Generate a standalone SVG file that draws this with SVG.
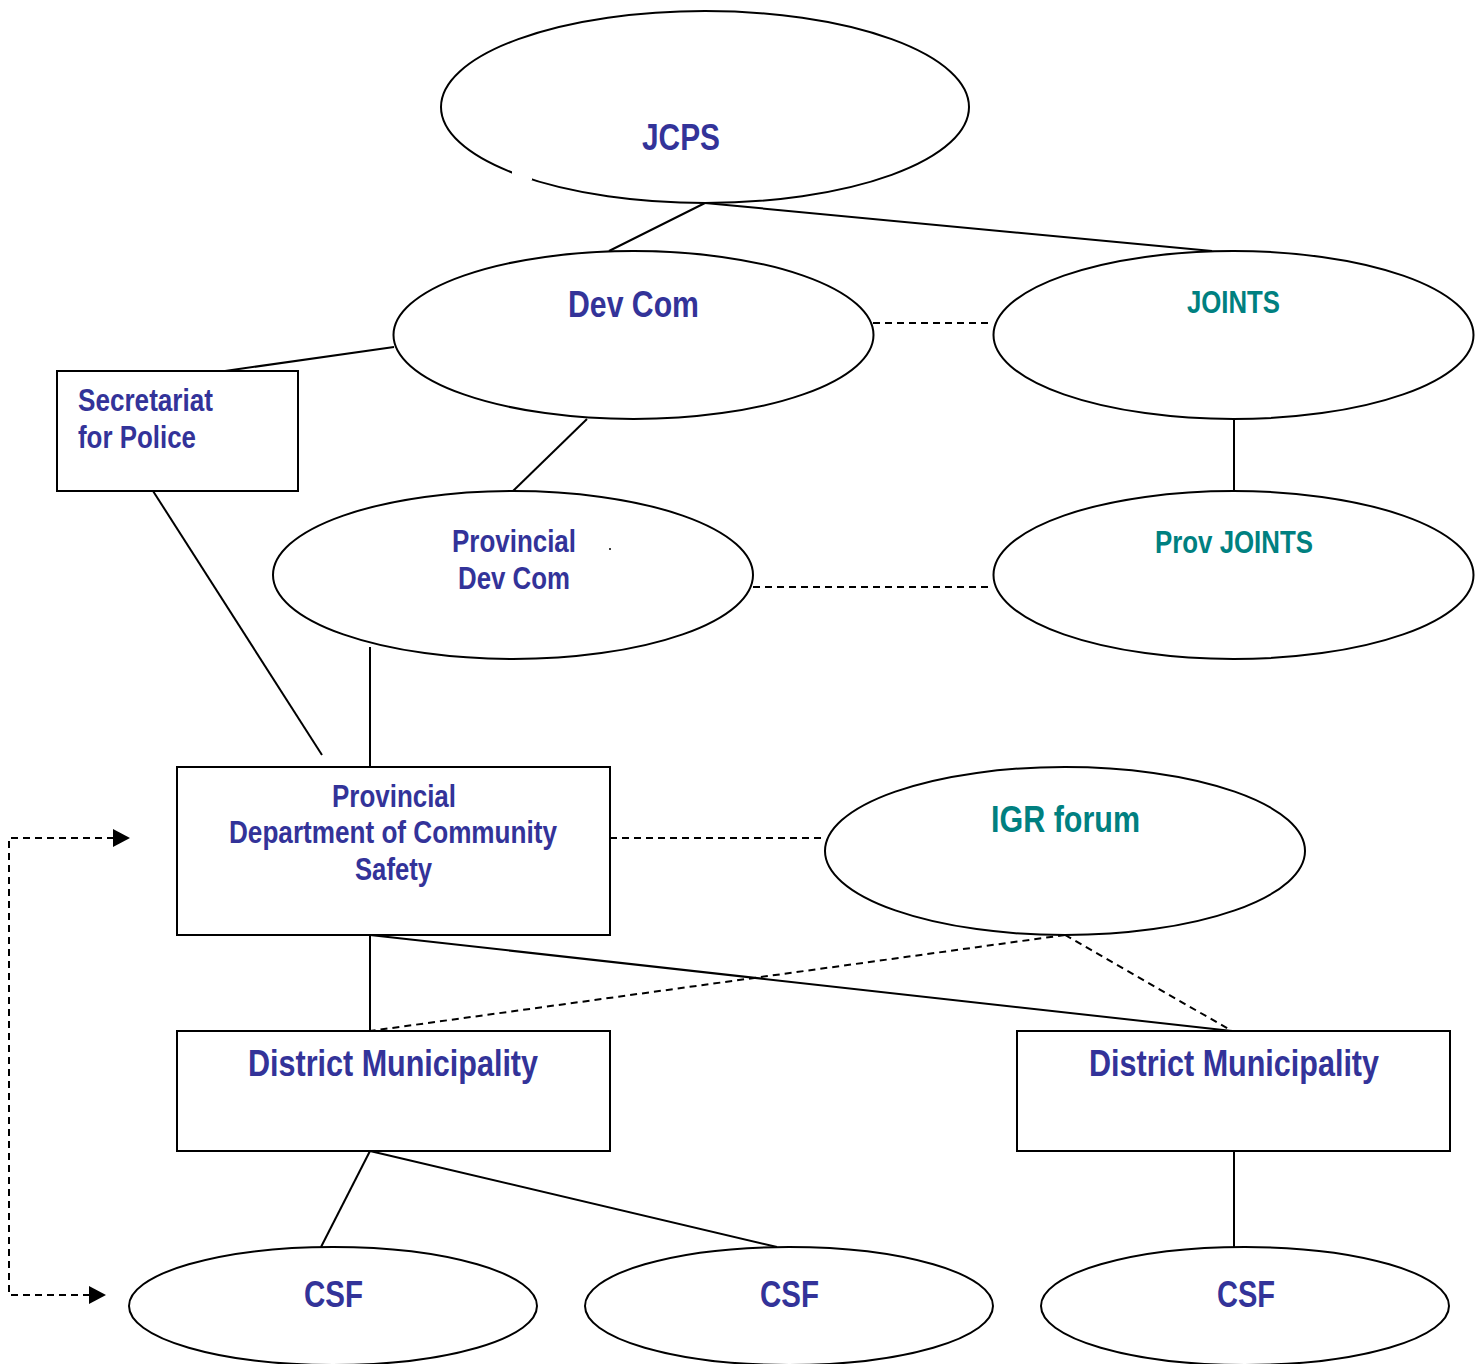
<svg xmlns="http://www.w3.org/2000/svg" width="1481" height="1364" viewBox="0 0 1481 1364">
<style>
.n{fill:#fff;stroke:#000;stroke-width:2}
.t{font-family:"Liberation Sans",Arial,sans-serif;font-weight:bold;fill:#333399}
.g{fill:#008080}
.c line,.c polyline{stroke:#000;stroke-width:2;fill:none}
.c .d{stroke-dasharray:7 5}
.ah{fill:#000}
</style>
<rect width="1481" height="1364" fill="#fff"/>
<g class="c">
<line x1="705" y1="203" x2="609" y2="251"/>
<line x1="705" y1="203" x2="1212" y2="251"/>
<line class="d" x1="873" y1="323" x2="993" y2="323"/>
<line x1="394" y1="347" x2="225" y2="371"/>
<line x1="587" y1="419" x2="513" y2="491"/>
<line x1="1234" y1="419" x2="1234" y2="491"/>
<line class="d" x1="753" y1="587" x2="993" y2="587"/>
<line x1="153" y1="491" x2="322" y2="755"/>
<line x1="370" y1="647" x2="370" y2="767"/>
<polyline class="d" points="114,838 9,838 9,1295 90,1295"/>
<line class="d" x1="610" y1="838" x2="825" y2="838"/>
<line x1="370" y1="935" x2="370" y2="1031"/>
<line x1="370" y1="935" x2="1232" y2="1031"/>
<line class="d" x1="1065" y1="935" x2="370" y2="1031"/>
<line class="d" x1="1065" y1="935" x2="1232" y2="1031"/>
<line x1="370" y1="1151" x2="321" y2="1247"/>
<line x1="370" y1="1151" x2="777" y2="1247"/>
<line x1="1234" y1="1151" x2="1234" y2="1247"/>
<path class="ah" d="M113,829 L130,838 L113,847 z"/>
<path class="ah" d="M89,1286 L106,1295 L89,1304 z"/>
</g>
<g id="jcps"><ellipse class="n" cx="705" cy="107" rx="264" ry="96"/><rect x="512" y="170" width="20" height="10" fill="#fff"/><text class="t" x="642" y="150" font-size="37" textLength="78" lengthAdjust="spacingAndGlyphs">JCPS</text></g>
<g id="devcom"><ellipse class="n" cx="633.5" cy="335" rx="240" ry="84"/><text class="t" x="568" y="317" font-size="37" textLength="131" lengthAdjust="spacingAndGlyphs">Dev Com</text></g>
<g id="joints"><ellipse class="n" cx="1233.5" cy="335" rx="240" ry="84"/><text class="t g" x="1187" y="313" font-size="31" textLength="93" lengthAdjust="spacingAndGlyphs">JOINTS</text></g>
<g id="secretariat"><rect class="n" x="57" y="371" width="241" height="120"/><text class="t" x="78" y="411" font-size="31" textLength="135" lengthAdjust="spacingAndGlyphs">Secretariat</text><text class="t" x="78" y="448" font-size="31" textLength="118" lengthAdjust="spacingAndGlyphs">for Police</text></g>
<g id="provdevcom"><ellipse class="n" cx="513" cy="575" rx="240" ry="84"/><text class="t" x="452" y="552" font-size="31" textLength="124" lengthAdjust="spacingAndGlyphs">Provincial</text><text class="t" x="458" y="589" font-size="31" textLength="112" lengthAdjust="spacingAndGlyphs">Dev Com</text><circle cx="610" cy="549" r="1" fill="#000"/></g>
<g id="provjoints"><ellipse class="n" cx="1233.5" cy="575" rx="240" ry="84"/><text class="t g" x="1155" y="553" font-size="31" textLength="158" lengthAdjust="spacingAndGlyphs">Prov JOINTS</text></g>
<g id="dept"><rect class="n" x="177" y="767" width="433" height="168"/><text class="t" x="332" y="807" font-size="31" textLength="124" lengthAdjust="spacingAndGlyphs">Provincial</text><text class="t" x="229" y="843" font-size="31" textLength="328" lengthAdjust="spacingAndGlyphs">Department of Community</text><text class="t" x="355" y="880" font-size="31" textLength="77" lengthAdjust="spacingAndGlyphs">Safety</text></g>
<g id="igr"><ellipse class="n" cx="1065" cy="851" rx="240" ry="84"/><text class="t g" x="991" y="832" font-size="37" textLength="149" lengthAdjust="spacingAndGlyphs">IGR forum</text></g>
<g id="dm1"><rect class="n" x="177" y="1031" width="433" height="120"/><text class="t" x="248" y="1076" font-size="37" textLength="290" lengthAdjust="spacingAndGlyphs">District Municipality</text></g>
<g id="dm2"><rect class="n" x="1017" y="1031" width="433" height="120"/><text class="t" x="1089" y="1076" font-size="37" textLength="290" lengthAdjust="spacingAndGlyphs">District Municipality</text></g>
<g id="csf1"><ellipse class="n" cx="333" cy="1306" rx="204" ry="59"/><text class="t" x="304" y="1307" font-size="37" textLength="59" lengthAdjust="spacingAndGlyphs">CSF</text></g>
<g id="csf2"><ellipse class="n" cx="789" cy="1306" rx="204" ry="59"/><text class="t" x="760" y="1307" font-size="37" textLength="59" lengthAdjust="spacingAndGlyphs">CSF</text></g>
<g id="csf3"><ellipse class="n" cx="1245" cy="1306" rx="204" ry="59"/><text class="t" x="1217" y="1307" font-size="37" textLength="58" lengthAdjust="spacingAndGlyphs">CSF</text></g>
</svg>
